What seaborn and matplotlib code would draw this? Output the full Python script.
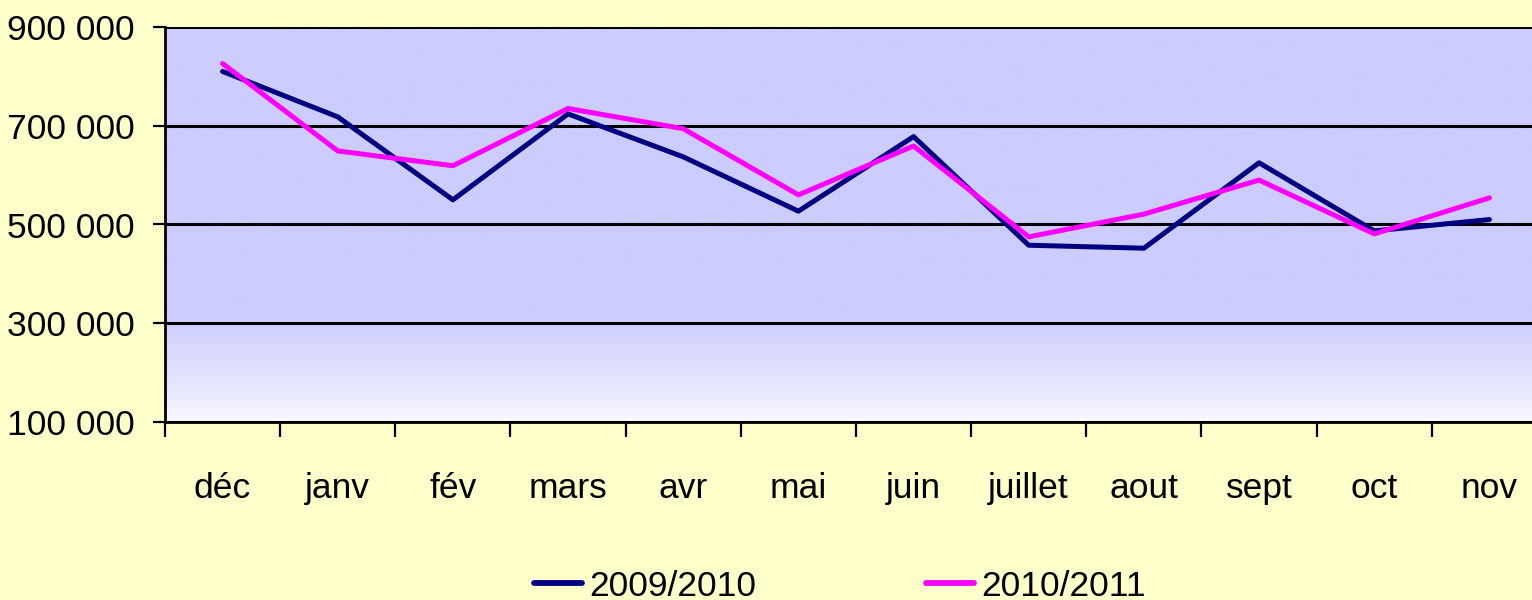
import numpy as np
import pandas as pd
import matplotlib
matplotlib.use("Agg")
import matplotlib.pyplot as plt
from matplotlib import font_manager
from matplotlib.ticker import FuncFormatter
import seaborn as sns

months = ["déc", "janv", "fév", "mars", "avr", "mai", "juin", "juillet", "aout", "sept", "oct", "nov"]
series_names = ["2009/2010", "2010/2011"]
values_2009_2010 = [810000, 718000, 550000, 724000, 637000, 527000, 678000, 458000, 452000, 625000, 487000, 510000]
values_2010_2011 = [826000, 649000, 619000, 735000, 694000, 560000, 659000, 475000, 521000, 590000, 481000, 554000]
y_ticks = [100000, 300000, 500000, 700000, 900000]

sns.set_theme(style="white")
names = {f.name for f in font_manager.fontManager.ttflist}
family = "Liberation Sans Narrow" if "Liberation Sans Narrow" in names else "Liberation Sans"
plt.rcParams["font.family"] = [family, "DejaVu Sans"]
plt.rcParams["text.color"] = "black"
plt.rcParams["xtick.color"] = "black"
plt.rcParams["ytick.color"] = "black"
fs = 30 if family == "Liberation Sans Narrow" else 25.5

df = pd.DataFrame({
    "pos": list(range(len(months))) * 2,
    "value": values_2009_2010 + values_2010_2011,
    "serie": [series_names[0]] * len(months) + [series_names[1]] * len(months),
})

fig = plt.figure(figsize=(15.32, 6.0), dpi=100)
fig.patch.set_facecolor("#FFFFCC")
ax = fig.add_axes([165 / 1532, 178 / 600, (1547 - 165) / 1532, (422 - 27) / 600])

# gradient background
n = 400
yy = np.linspace(100000, 900000, n)
t = np.clip((yy - 100000) / (320000 - 100000), 0, 1) ** 0.8
top = np.array([204, 204, 255]) / 255
bot = np.array([250, 250, 255]) / 255
cols = bot[None, :] + (top - bot)[None, :] * t[:, None]
img = cols[:, None, :]
ax.imshow(img, extent=[-0.5, 11.5, 100000, 900000], origin="lower", aspect="auto", zorder=0)

sns.lineplot(data=df, x="pos", y="value", hue="serie", palette=["#000080", "#FF00FF"],
             linewidth=3.6, ax=ax, legend=False, zorder=3)

ax.set_xlim(-0.5, 11.5)
ax.set_ylim(100000, 900000)
ax.set_yticks(y_ticks)
ax.yaxis.set_major_formatter(FuncFormatter(lambda v, p: f"{int(v):,}".replace(",", " ")))
ax.set_xticks(np.arange(-0.5, 12, 1))
ax.set_xticklabels([])
ax.set_xticks(np.arange(len(months)), minor=True)
ax.set_xticklabels(months, minor=True)
ax.tick_params(axis="x", which="major", direction="out", length=11, width=1.6, color="black", bottom=True)
ax.tick_params(axis="x", which="minor", length=0, pad=36, labelsize=fs, bottom=True, labelcolor="black")
ax.tick_params(axis="y", direction="out", length=9, width=1.6, color="black", pad=13, labelsize=fs,
               left=True, labelcolor="black")
ax.set_xlabel("")
ax.set_ylabel("")
ax.grid(False)
for yv in y_ticks:
    ax.axhline(yv, color="black", linewidth=2.2, zorder=2)
for s in ["left", "bottom"]:
    ax.spines[s].set_color("black")
    ax.spines[s].set_linewidth(2.0)
ax.spines["right"].set_visible(False)
ax.spines["top"].set_visible(False)

handles = [plt.Line2D([], [], color="#000080", linewidth=4.2),
           plt.Line2D([], [], color="#FF00FF", linewidth=4.2)]
fig.legend(handles, series_names, loc="center", bbox_to_anchor=(840 / 1532, 1 - 586 / 600), ncol=2,
           frameon=False, fontsize=fs, handlelength=1.35, handletextpad=0.2, columnspacing=4.8,
           borderpad=0, labelcolor="black")

fig.savefig("out.png", dpi=100, facecolor=fig.get_facecolor())
